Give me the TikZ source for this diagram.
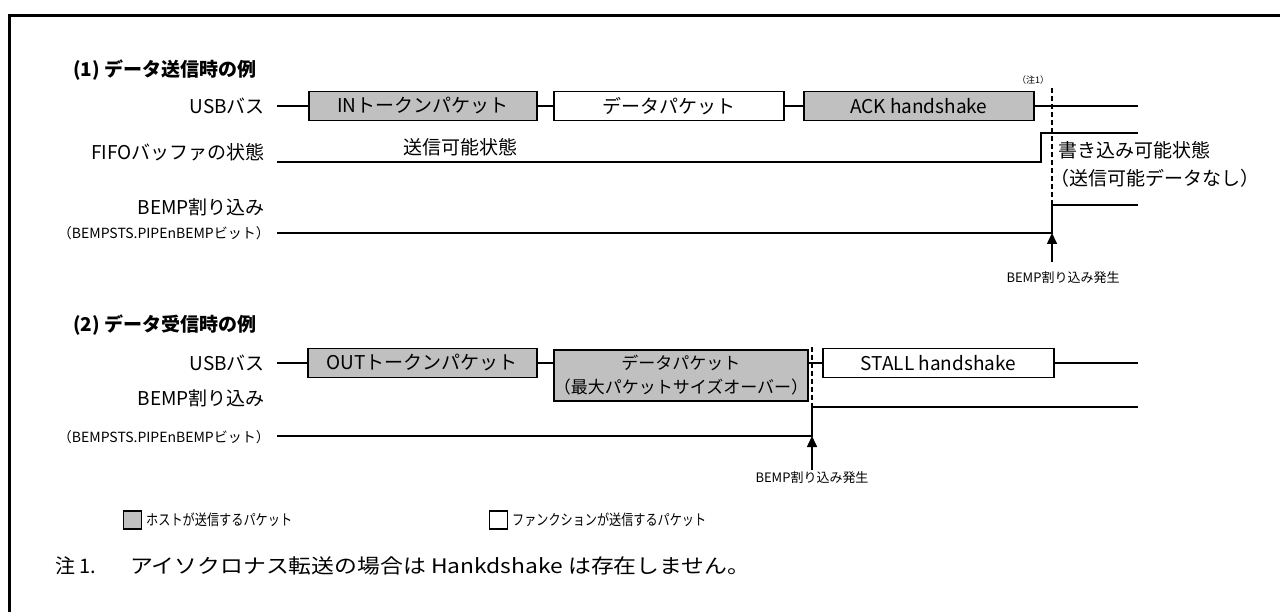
\documentclass[tikz,border=0pt]{standalone}
\usepackage{fontspec}
\usepackage{graphicx}
\setmainfont{Noto Sans CJK JP}
\usetikzlibrary{arrows.meta}
\definecolor{pktgray}{HTML}{C0C0C0}
\begin{document}
\begin{tikzpicture}[x=1pt,y=-1pt,
  lab/.style={font=\fontsize{19}{23}\selectfont, inner sep=0pt},
  smalllab/.style={font=\fontsize{14}{17}\selectfont, inner sep=0pt},
  tinylab/.style={font=\fontsize{9}{11}\selectfont, inner sep=0pt},
  midlab/.style={font=\fontsize{13}{16}\selectfont, inner sep=0pt},
  leglab/.style={font=\fontsize{15}{18}\selectfont, inner sep=0pt},
  notelab/.style={font=\fontsize{20}{24}\selectfont, inner sep=0pt},
  ttl/.style={font=\fontsize{19}{23}\selectfont\bfseries, inner sep=0pt},
  pkt/.style={draw, line width=1.6pt, minimum height=29pt, inner sep=0pt, font=\fontsize{19}{23}\selectfont, align=center},
  hostpkt/.style={pkt, fill=pktgray},
  funcpkt/.style={pkt, fill=white},
  legbox/.style={draw, line width=1.4pt, minimum width=18pt, minimum height=18pt, inner sep=0pt},
  sig/.style={line width=1.6pt},
  dsh/.style={line width=2.2pt, dash pattern=on 5pt off 3pt},
  arr/.style={line width=1.6pt, -{Triangle[length=11pt,width=10pt]}},
  frame/.style={line width=3pt}
]
\useasboundingbox (0,0) rectangle (1280,612);
% frame
\coordinate (fr1) at (1282,16);
\coordinate (fr2) at (9.5,16);
\coordinate (fr3) at (9.5,614);
\draw[frame] (fr1) -- (fr2) -- (fr3);

% ---------- (1) ----------
\node[ttl,anchor=west] (t1) at (73,70) {(1) データ送信時の例};

\node[lab,anchor=east] (usb1) at (265,106) {USBバス};
\coordinate (u1a) at (277,106);
\node[hostpkt,minimum width=228pt,anchor=west] (in1) at (308,106) {INトークンパケット};
\node[funcpkt,minimum width=230pt,anchor=west] (dat1) at (553,106) {データパケット};
\node[hostpkt,minimum width=230pt,anchor=west] (ack1) at (803,106) {ACK handshake};
\coordinate (u1b) at (1138,106);
\draw[sig] (u1a) -- (in1.west) (in1.east) -- (dat1.west) (dat1.east) -- (ack1.west) (ack1.east) -- (u1b);

\node[lab,anchor=east] (fifo1) at (265,152) {FIFOバッファの状態};
\coordinate (f1a) at (277,162);
\coordinate (f1s) at (1041,162);
\coordinate (f1t) at (1041,133);
\coordinate (f1b) at (1138,133);
\draw[sig] (f1a) -- (f1s) -- (f1t) -- (f1b);
\node[lab,anchor=west] (st1) at (403,147) {送信可能状態};
\node[lab,anchor=west] (st2) at (1058,150) {書き込み可能状態};
\node[lab,anchor=west] (st3) at (1050,178) {（送信可能データなし）};

\node[lab,anchor=east] (bemp1) at (265,207) {BEMP割り込み};
\node[smalllab,anchor=east] (bsts1) at (270,233) {（BEMPSTS.PIPEnBEMPビット）};
\coordinate (b1a) at (277,233);
\coordinate (b1s) at (1052,233);
\coordinate (b1t) at (1052,205);
\coordinate (b1b) at (1138,205);
\draw[sig] (b1a) -- (b1s) -- (b1t) -- (b1b);

\coordinate (v1t) at (1052,88);
\coordinate (v1b) at (1052,234);
\draw[dsh] (v1t) -- (v1b);
\node[tinylab] (note1) at (1033,80) {（注1）};
\coordinate (a1b) at (1052,262);
\draw[arr] (a1b) -- (b1s);
\node[midlab] (occ1) at (1063,278) {BEMP割り込み発生};

% ---------- (2) ----------
\node[ttl,anchor=west] (t2) at (73,325) {(2) データ受信時の例};

\node[lab,anchor=east] (usb2) at (265,363) {USBバス};
\coordinate (u2a) at (277,363);
\node[hostpkt,minimum width=229pt,anchor=west] (out2) at (307,363) {OUTトークンパケット};
\node[hostpkt,minimum width=250pt,minimum height=51pt,anchor=north west,font=\fontsize{17}{24}\selectfont] (dat2) at (553,349) {データパケット\\（最大パケットサイズオーバー）};
\node[funcpkt,minimum width=231pt,anchor=west] (stl2) at (822,363) {STALL handshake};
\coordinate (u2b) at (1138,363);
\draw[sig] (u2a) -- (out2.west) (out2.east) -- (out2.east -| dat2.west)
  (dat2.east |- out2.east) -- (stl2.west) (stl2.east) -- (u2b);

\node[lab,anchor=east] (bemp2) at (265,398) {BEMP割り込み};
\node[smalllab,anchor=east] (bsts2) at (270,437) {（BEMPSTS.PIPEnBEMPビット）};
\coordinate (b2a) at (277,436);
\coordinate (b2s) at (812,436);
\coordinate (b2t) at (812,407);
\coordinate (b2b) at (1138,407);
\draw[sig] (b2a) -- (b2s) -- (b2t) -- (b2b);

\coordinate (v2t) at (812,347);
\coordinate (v2b) at (812,437);
\draw[dsh] (v2t) -- (v2b);
\coordinate (a2b) at (812,470);
\draw[arr] (a2b) -- (b2s);
\node[midlab] (occ2) at (812,478) {BEMP割り込み発生};

% ---------- legend ----------
\node[legbox,fill=pktgray,anchor=west] (lg1) at (123,520) {};
\node[leglab,anchor=west] (lgt1) at (146,520) {\resizebox{146pt}{\height}{ホストが送信するパケット}};
\node[legbox,fill=white,anchor=west] (lg2) at (489,520) {};
\node[leglab,anchor=west] (lgt2) at (512,520) {\resizebox{194pt}{\height}{ファンクションが送信するパケット}};

\node[notelab,anchor=west] (n1) at (55,566) {注 1.};
\node[notelab,anchor=west] (n2) at (130,566) {\resizebox{620pt}{\height}{アイソクロナス転送の場合は Hankdshake は存在しません。}};
\end{tikzpicture}
\end{document}
